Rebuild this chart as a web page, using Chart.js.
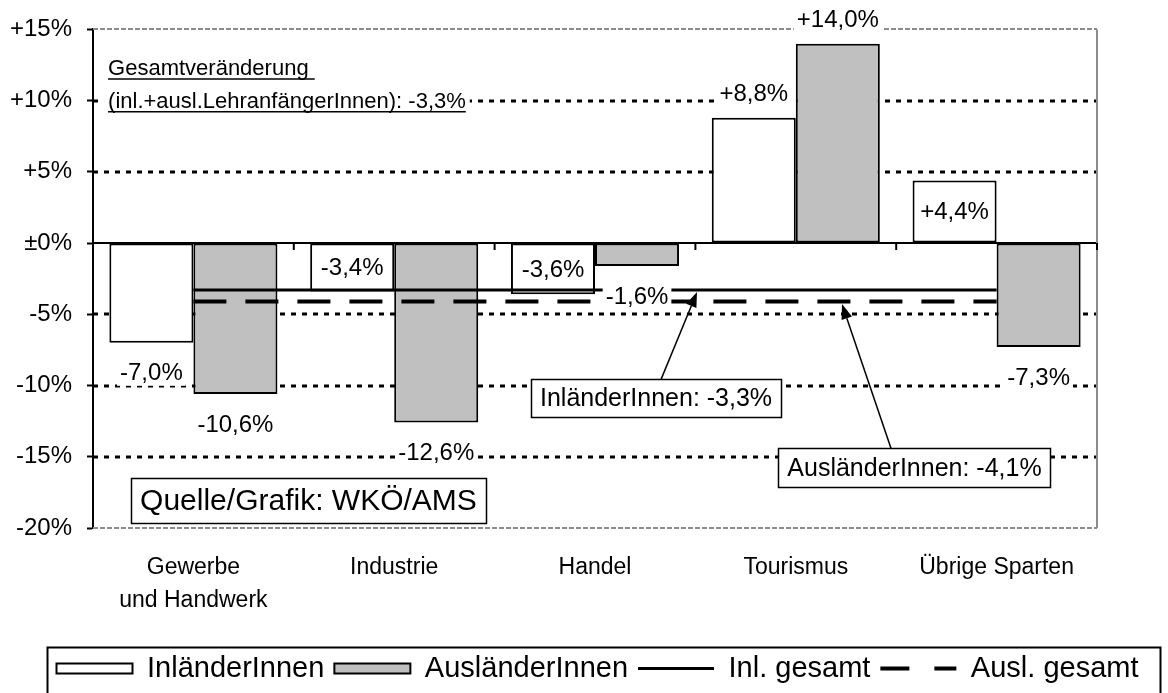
<!DOCTYPE html>
<html>
<head>
<meta charset="utf-8">
<script src="https://cdn.jsdelivr.net/npm/chart.js@4/dist/chart.umd.min.js"></script>
<style>
html, body { margin: 0; padding: 0; background: #fff; }
canvas { display: block; }
</style>
</head>
<body>
<canvas id="c" width="1168" height="693"></canvas>
<script>
// ---------- data ----------
const categories = [['Gewerbe', 'und Handwerk'], 'Industrie', 'Handel', 'Tourismus', 'Übrige Sparten'];
const inlaender = [-7.0, -3.4, -3.6, 8.8, 4.4];
const auslaender = [-10.6, -12.6, -1.6, 14.0, -7.3];
const inlGesamt = -3.3;
const auslGesamt = -4.1;
const gesamtVeraenderung = -3.3;
const yTicks = [15, 10, 5, 0, -5, -10, -15, -20];
const seriesNames = ['InländerInnen', 'AusländerInnen', 'Inl. gesamt', 'Ausl. gesamt'];

// ---------- helpers ----------
const FONT = "'Liberation Sans', Arial, Helvetica, sans-serif";
Chart.defaults.font.family = FONT;
Chart.defaults.color = '#000';
const yMax = Math.max(...yTicks), yMin = Math.min(...yTicks);
const fmtPct = v => (v > 0 ? '+' : '') + v.toFixed(1).replace('.', ',') + '%';
const fmtTick = v => v > 0 ? '+' + v + '%' : (v === 0 ? '±0%' : v + '%');
const LEGEND_SHIFT = 13.5;

// ---------- plugins ----------
const gridPlugin = {
  id: 'excelGrid',
  beforeDatasetsDraw(chart) {
    const { ctx, chartArea: a, scales: { x, y } } = chart;
    ctx.save();
    yTicks.forEach(v => {
      const py = Math.round(y.getPixelForValue(v));
      ctx.beginPath();
      if (v === 0) { ctx.setLineDash([]); ctx.strokeStyle = '#000'; ctx.lineWidth = 2; }
      else if (v === yMax || v === yMin) { ctx.setLineDash([5, 2]); ctx.strokeStyle = '#8c8c8c'; ctx.lineWidth = 2; }
      else { ctx.setLineDash([5, 6]); ctx.strokeStyle = '#000'; ctx.lineWidth = 3; }
      ctx.moveTo(a.left, py); ctx.lineTo(a.right, py); ctx.stroke();
    });
    ctx.setLineDash([]);
    ctx.strokeStyle = '#8c8c8c'; ctx.lineWidth = 2;
    ctx.beginPath(); ctx.moveTo(a.right, a.top); ctx.lineTo(a.right, a.bottom); ctx.stroke();
    const y0 = Math.round(y.getPixelForValue(0));
    ctx.strokeStyle = '#000'; ctx.lineWidth = 2;
    for (let i = 0; i < categories.length; i++) {
      const bx = x.getPixelForValue(i + 0.5);
      ctx.beginPath(); ctx.moveTo(bx, y0); ctx.lineTo(bx, y0 + 7); ctx.stroke();
    }
    ctx.restore();
  }
};

const labelPlugin = {
  id: 'barLabels',
  afterDatasetsDraw(chart) {
    const { ctx } = chart;
    ctx.save();
    ctx.font = '24px ' + FONT;
    ctx.textAlign = 'center';
    ctx.textBaseline = 'middle';
    chart.data.datasets.forEach((ds, di) => {
      if (ds.type === 'line') return;
      const meta = chart.getDatasetMeta(di);
      meta.data.forEach((bar, i) => {
        const v = ds.data[i];
        const txt = fmtPct(v);
        let cy;
        if (Math.abs(v) > 2 && Math.abs(v) < 5) cy = (bar.y + bar.base) / 2;
        else cy = v >= 0 ? bar.y - 24 : bar.y + 30;
        const w = ctx.measureText(txt).width + 6;
        ctx.fillStyle = '#fff';
        ctx.fillRect(bar.x - w / 2, cy - 13, w, 26);
        ctx.fillStyle = '#000';
        ctx.fillText(txt, bar.x, cy + 1);
      });
    });
    ctx.restore();
  }
};

function drawBoxText(ctx, txt, cx, cy, size, h) {
  ctx.font = size + 'px ' + FONT;
  const w = ctx.measureText(txt).width + 18;
  ctx.fillStyle = '#fff';
  ctx.fillRect(cx - w / 2, cy - h / 2, w, h);
  ctx.strokeStyle = '#000'; ctx.lineWidth = 1.5; ctx.setLineDash([]);
  ctx.strokeRect(Math.round(cx - w / 2) + 0.5, Math.round(cy - h / 2) + 0.5, Math.round(w), Math.round(h));
  ctx.fillStyle = '#000';
  ctx.textAlign = 'center'; ctx.textBaseline = 'middle';
  ctx.fillText(txt, cx, cy + 1);
  return { top: cy - h / 2 };
}
function drawArrow(ctx, x1, y1, x2, y2) {
  ctx.strokeStyle = '#000'; ctx.fillStyle = '#000'; ctx.lineWidth = 1.5; ctx.setLineDash([]);
  const ang = Math.atan2(y2 - y1, x2 - x1);
  const L = 15, W = 5.5;
  const bx = x2 - L * Math.cos(ang), by = y2 - L * Math.sin(ang);
  ctx.beginPath(); ctx.moveTo(x1, y1); ctx.lineTo(bx, by); ctx.stroke();
  ctx.beginPath();
  ctx.moveTo(x2, y2);
  ctx.lineTo(bx + W * Math.sin(ang), by - W * Math.cos(ang));
  ctx.lineTo(bx - W * Math.sin(ang), by + W * Math.cos(ang));
  ctx.closePath(); ctx.fill();
}

const notePlugin = {
  id: 'notes',
  afterDatasetsDraw(chart) {
    const { ctx, scales: { x, y } } = chart;
    ctx.save();
    ctx.font = '22px ' + FONT;
    ctx.textAlign = 'left'; ctx.textBaseline = 'alphabetic';
    const gx = x.getPixelForValue(-0.425);
    const lines = ['Gesamtveränderung ', '(inl.+ausl.LehranfängerInnen): ' + fmtPct(gesamtVeraenderung)];
    const bases = [y.getPixelForValue(11.8), y.getPixelForValue(9.5)];
    const maxW = Math.max(...lines.map(t => ctx.measureText(t).width));
    ctx.fillStyle = '#fff';
    ctx.fillRect(gx - 4, bases[0] - 22, maxW + 8, bases[1] - bases[0] + 30);
    ctx.fillStyle = '#000';
    lines.forEach((t, i) => {
      ctx.fillText(t, gx, bases[i]);
      const w = ctx.measureText(t).width;
      ctx.strokeStyle = '#000'; ctx.lineWidth = 1.5;
      ctx.beginPath(); ctx.moveTo(gx, bases[i] + 4); ctx.lineTo(gx + w, bases[i] + 4); ctx.stroke();
    });
    drawBoxText(ctx, 'Quelle/Grafik: WKÖ/AMS', x.getPixelForValue(0.573), y.getPixelForValue(-18.1), 30, 45);
    const b1 = drawBoxText(ctx, seriesNames[0] + ': ' + fmtPct(inlGesamt), x.getPixelForValue(2.304), y.getPixelForValue(-10.9), 25, 38);
    drawArrow(ctx, x.getPixelForValue(2.329), b1.top, x.getPixelForValue(2.508), y.getPixelForValue(inlGesamt) + 2);
    const b2 = drawBoxText(ctx, seriesNames[1] + ': ' + fmtPct(auslGesamt), x.getPixelForValue(3.591), y.getPixelForValue(-15.77), 25, 39);
    drawArrow(ctx, x.getPixelForValue(3.474), b2.top, x.getPixelForValue(3.23), y.getPixelForValue(auslGesamt) + 2.5);
    ctx.restore();
  }
};

const legendBoxPlugin = {
  id: 'legendBox',
  afterUpdate(chart) {
    const lg = chart.legend;
    if (!lg) return;
    lg.left += LEGEND_SHIFT; lg.right += LEGEND_SHIFT;
    (lg.legendHitBoxes || []).forEach(h => { h.left += LEGEND_SHIFT; });
  },
  afterDraw(chart) {
    const hb = chart.legend && chart.legend.legendHitBoxes;
    if (!hb || !hb.length) return;
    const { ctx } = chart;
    const first = hb[0], last = hb[hb.length - 1];
    const cy = first.top + first.height / 2;
    const left = first.left - 9, right = last.left + last.width + 22;
    ctx.save();
    ctx.strokeStyle = '#000'; ctx.lineWidth = 2;
    ctx.beginPath();
    ctx.moveTo(left, chart.height + 5); ctx.lineTo(left, cy - 21);
    ctx.lineTo(right, cy - 21); ctx.lineTo(right, chart.height + 5);
    ctx.stroke();
    ctx.restore();
  }
};

// ---------- chart ----------
new Chart(document.getElementById('c'), {
  type: 'bar',
  data: {
    labels: categories,
    datasets: [
      { label: seriesNames[0], data: inlaender, backgroundColor: '#ffffff', borderColor: '#000', borderWidth: 2, borderSkipped: false, order: 2, yAxisID: 'y' },
      { label: seriesNames[1], data: auslaender, backgroundColor: '#c0c0c0', borderColor: '#000', borderWidth: 2, borderSkipped: false, order: 2, yAxisID: 'y' },
      { type: 'line', label: seriesNames[2], data: categories.map(() => inlGesamt), borderColor: '#000', borderWidth: 3, pointRadius: 0, fill: false, order: 1, yAxisID: 'y', legendDash: [] },
      { type: 'line', label: seriesNames[3], data: categories.map(() => auslGesamt), borderColor: '#000', borderWidth: 4, borderDash: [33, 19], pointRadius: 0, fill: false, order: 1, yAxisID: 'y', legendDash: [29, 25] }
    ]
  },
  options: {
    responsive: false,
    animation: false,
    events: [],
    devicePixelRatio: 1,
    layout: { padding: { top: 28, right: 0, left: 0, bottom: 0 } },
    datasets: { bar: { barPercentage: 1, categoryPercentage: 0.837 } },
    scales: {
      x: {
        grid: { display: false, drawTicks: false },
        border: { display: false },
        ticks: { font: { size: 23, family: FONT, lineHeight: 1.4 }, color: '#000', padding: 24, maxRotation: 0, autoSkip: false },
        afterFit(s) { s.height = 116; }
      },
      y: {
        min: yMin, max: yMax,
        afterBuildTicks(s) { s.ticks = yTicks.map(v => ({ value: v })); },
        grid: { drawOnChartArea: false, drawTicks: true, tickLength: 6, tickColor: '#000', tickWidth: 2, color: '#000' },
        border: { display: true, color: '#000', width: 2 },
        ticks: { font: { size: 24, family: FONT }, color: '#000', padding: 15, callback: v => fmtTick(v) },
        afterFit(s) { s.width = 93; }
      },
      yRight: {
        position: 'right',
        display: true,
        grid: { display: false, drawTicks: false },
        border: { display: false },
        ticks: { display: false },
        afterFit(s) { s.width = 71; }
      }
    },
    plugins: {
      tooltip: { enabled: false },
      legend: {
        position: 'bottom',
        fullSize: true,
        labels: {
          usePointStyle: true, pointStyleWidth: 76, boxHeight: 10, padding: 10,
          font: { size: 29, family: FONT }, color: '#000',
          generateLabels(chart) {
            return chart.data.datasets.map((ds, i) => ({
              text: ds.label,
              datasetIndex: i,
              fillStyle: ds.type === 'line' ? 'rgba(0,0,0,0)' : ds.backgroundColor,
              strokeStyle: '#000',
              lineWidth: ds.type === 'line' ? ds.borderWidth : 2,
              lineDash: ds.type === 'line' ? ds.legendDash : [],
              pointStyle: ds.type === 'line' ? 'line' : 'rect',
              fontColor: '#000',
              hidden: false
            }));
          }
        }
      }
    }
  },
  plugins: [gridPlugin, labelPlugin, notePlugin, legendBoxPlugin]
});
</script>
</body>
</html>
